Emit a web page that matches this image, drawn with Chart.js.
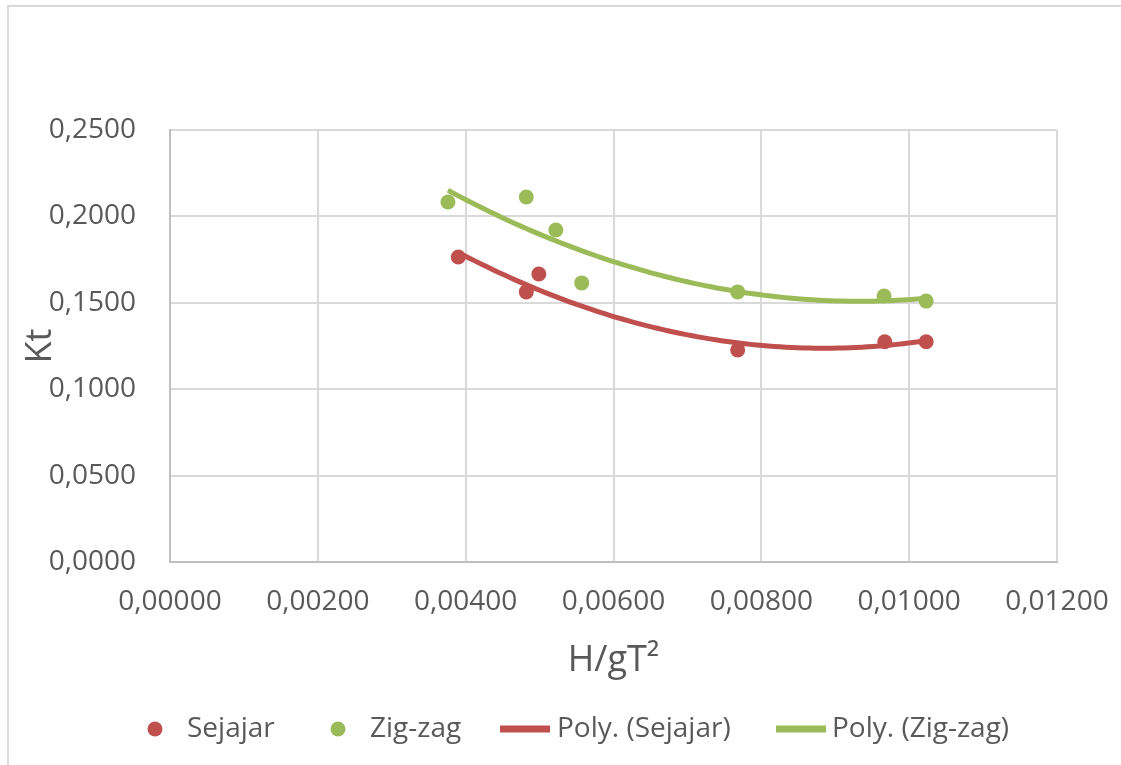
<!DOCTYPE html>
<html>
<head>
<meta charset="utf-8">
<script src="https://cdn.jsdelivr.net/npm/chart.js@4/dist/chart.umd.min.js"></script>
<style>
  html, body { margin: 0; padding: 0; background: #fff; }
  #wrap { width: 1121px; height: 765px; position: relative; }
</style>
</head>
<body>
<div id="wrap"><canvas id="chart" width="1121" height="765"></canvas></div>
<script>
// data
const sejajarX = [0.00390, 0.00482, 0.00499, 0.00768, 0.00967, 0.01023]
const sejajarY = [0.1765, 0.1563, 0.1667, 0.1227, 0.1275, 0.1275]
const zigzagX = [0.00376, 0.00482, 0.00522, 0.00557, 0.00768, 0.00966, 0.01023]
const zigzagY = [0.2083, 0.2112, 0.1921, 0.1615, 0.1563, 0.1539, 0.1510]
const xTicks = [0, 0.002, 0.004, 0.006, 0.008, 0.010, 0.012]
const yTicks = [0, 0.05, 0.10, 0.15, 0.20, 0.25]
const seriesNames = ["Sejajar", "Zig-zag", "Poly. (Sejajar)", "Poly. (Zig-zag)"]

const RED = "#c0504d"
const GREEN = "#9bbb59"
const TEXT = "#595959"
const FONT = "'Open Sans', sans-serif"

// least squares 2nd order polynomial (like the Excel trendline)
function polyFit(xs, ys) {
  const s = [0, 0, 0, 0, 0], t = [0, 0, 0]
  xs.forEach((x0, i) => {
    const x = x0 * 1000
    for (let k = 0; k < 5; k++) s[k] += Math.pow(x, k)
    for (let k = 0; k < 3; k++) t[k] += ys[i] * Math.pow(x, k)
  })
  const m = [[s[0], s[1], s[2], t[0]], [s[1], s[2], s[3], t[1]], [s[2], s[3], s[4], t[2]]]
  for (let c = 0; c < 3; c++) {
    for (let r = c + 1; r < 3; r++) {
      const f = m[r][c] / m[c][c]
      for (let k = c; k < 4; k++) m[r][k] -= f * m[c][k]
    }
  }
  const a = [0, 0, 0]
  for (let r = 2; r >= 0; r--) {
    let v = m[r][3]
    for (let k = r + 1; k < 3; k++) v -= m[r][k] * a[k]
    a[r] = v / m[r][r]
  }
  return (x0) => { const x = x0 * 1000; return a[0] + a[1] * x + a[2] * x * x }
}

function trendPoints(xs, ys) {
  const f = polyFit(xs, ys)
  const lo = Math.min(...xs), hi = Math.max(...xs)
  const pts = []
  for (let i = 0; i <= 80; i++) {
    const x = lo + (hi - lo) * i / 80
    pts.push({ x: x, y: f(x) })
  }
  return pts
}

const toPts = (xs, ys) => xs.map((x, i) => ({ x: x, y: ys[i] }))

// outer frame of the chart box
const framePlugin = {
  id: "frame",
  beforeDraw(chart) {
    const ctx = chart.ctx
    ctx.save()
    ctx.strokeStyle = "#d9d9d9"
    ctx.lineWidth = 2
    ctx.strokeRect(8, 6, 1200, 900)
    ctx.restore()
  }
}

// legend drawn at the bottom like the original
const legendPlugin = {
  id: "bottomLegend",
  afterDraw(chart) {
    const ctx = chart.ctx
    const y = 729
    ctx.save()
    ctx.font = "28px " + FONT
    ctx.fillStyle = TEXT
    ctx.textBaseline = "middle"
    const items = [
      { kind: "dot", color: RED, mx: 155, tx: 187 },
      { kind: "dot", color: GREEN, mx: 338, tx: 370 },
      { kind: "line", color: RED, mx: 500, tx: 557 },
      { kind: "line", color: GREEN, mx: 776, tx: 832 },
    ]
    items.forEach((it, i) => {
      if (it.kind === "dot") {
        ctx.beginPath()
        ctx.arc(it.mx, y, 7.5, 0, Math.PI * 2)
        ctx.fillStyle = it.color
        ctx.fill()
      } else {
        ctx.fillStyle = it.color
        ctx.fillRect(it.mx, y - 3.5, 50, 7)
      }
      ctx.fillStyle = TEXT
      ctx.fillText(seriesNames[i], it.tx, y)
    })
    ctx.restore()
  }
}

const ctx = document.getElementById("chart").getContext("2d")
new Chart(ctx, {
  type: "scatter",
  data: {
    datasets: [
      {
        label: seriesNames[2],
        data: trendPoints(sejajarX, sejajarY),
        showLine: true,
        borderColor: RED,
        borderWidth: 5,
        pointRadius: 0,
        tension: 0,
        order: 0,
      },
      {
        label: seriesNames[3],
        data: trendPoints(zigzagX, zigzagY),
        showLine: true,
        borderColor: GREEN,
        borderWidth: 5,
        pointRadius: 0,
        tension: 0,
        order: 1,
      },
      {
        label: seriesNames[0],
        data: toPts(sejajarX, sejajarY),
        backgroundColor: RED,
        borderColor: RED,
        pointRadius: 7.5,
        borderWidth: 0,
        order: 2,
      },
      {
        label: seriesNames[1],
        data: toPts(zigzagX, zigzagY),
        backgroundColor: GREEN,
        borderColor: GREEN,
        pointRadius: 7.5,
        borderWidth: 0,
        order: 3,
      },
    ],
  },
  options: {
    responsive: false,
    animation: false,
    layout: { padding: { top: 130, right: 64, left: 0, bottom: 0 } },
    plugins: {
      legend: { display: false },
      tooltip: { enabled: false },
    },
    scales: {
      x: {
        type: "linear",
        min: 0,
        max: 0.012,
        afterBuildTicks: (scale) => { scale.ticks = xTicks.map((v) => ({ value: v })) },
        afterFit: (scale) => {
          scale.height = 203
          scale.paddingLeft = 0
          scale.paddingRight = 0
        },
        ticks: {
          color: TEXT,
          font: { family: FONT, size: 28 },
          padding: 23,
          maxRotation: 0,
          callback: (v) => v.toFixed(5).replace(".", ","),
        },
        grid: { color: "#d9d9d9", lineWidth: 2, drawTicks: false },
        border: { color: "#bfbfbf", width: 2 },
        title: {
          display: true,
          text: "H/gT²",
          color: TEXT,
          font: { family: FONT, size: 36 },
          padding: { top: 0, bottom: 83 },
        },
      },
      y: {
        min: 0,
        max: 0.25,
        afterBuildTicks: (scale) => { scale.ticks = yTicks.map((v) => ({ value: v })) },
        afterFit: (scale) => {
          scale.width = 170
          scale.paddingTop = 0
          scale.paddingBottom = 0
        },
        ticks: {
          color: TEXT,
          font: { family: FONT, size: 28 },
          padding: 34,
          callback: (v) => v.toFixed(4).replace(".", ","),
        },
        grid: { color: "#d9d9d9", lineWidth: 2, drawTicks: false },
        border: { color: "#bfbfbf", width: 2 },
        title: {
          display: true,
          text: "Kt",
          color: TEXT,
          font: { family: FONT, size: 36 },
          padding: { top: 19, bottom: 0 },
        },
      },
    },
  },
  plugins: [framePlugin, legendPlugin],
})
</script>
</body>
</html>
